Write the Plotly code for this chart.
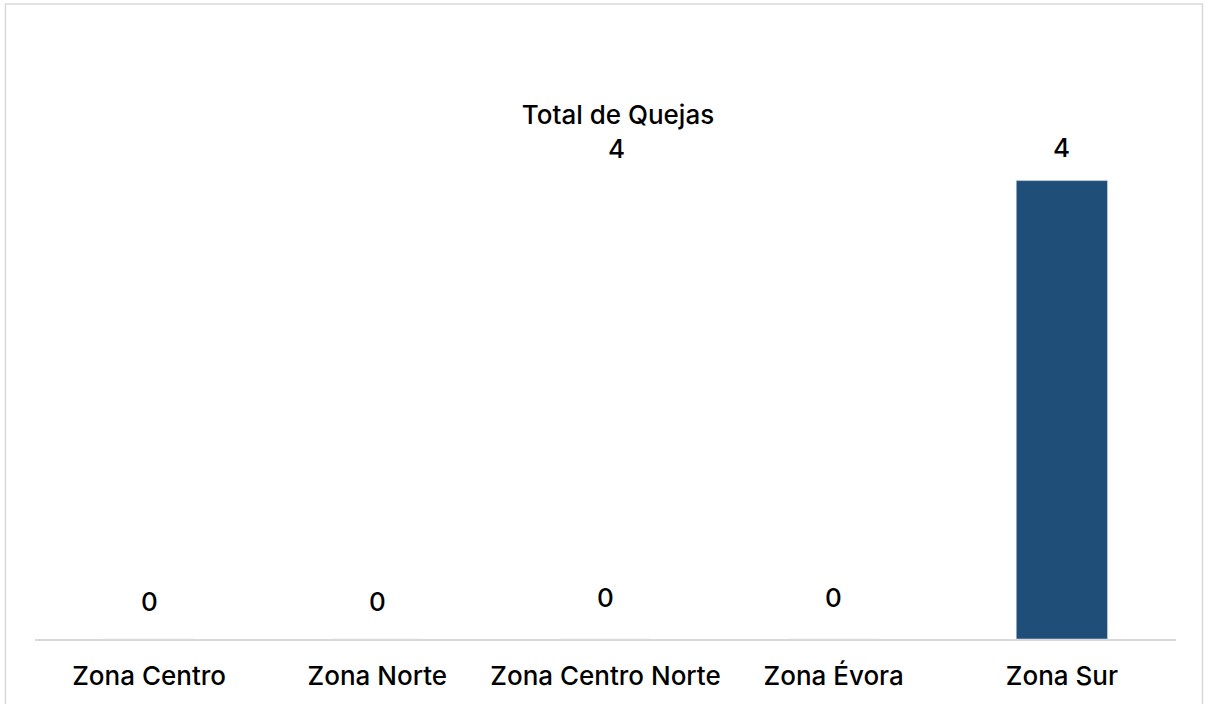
import plotly.graph_objects as go

categories = ["Zona Centro", "Zona Norte", "Zona Centro Norte", "Zona Évora", "Zona Sur"]
quejas = [0, 0, 0, 0, 4]
title_text = "Total de Quejas"

BAR_COLOR = "#1F4E79"
FONT = "Inter"
FSIZE = 26
label_shift = [38, 38, 42, 42, 33]

fig = go.Figure()
fig.add_trace(go.Bar(
    x=categories, y=quejas, marker_color=BAR_COLOR, width=0.4,
    hoverinfo="x+y",
))

for c, v, s in zip(categories, quejas, label_shift):
    fig.add_annotation(x=c, y=v, text=str(v), showarrow=False,
                       yanchor="middle", yshift=s,
                       font=dict(family=FONT, size=FSIZE, color="#000000", weight=500))

# stray total label under the title
fig.add_annotation(xref="paper", yref="paper", x=0.51, y=0.856,
                   text=str(sum(quejas)), showarrow=False, yanchor="middle",
                   font=dict(family=FONT, size=FSIZE, color="#000000", weight=500))

# outer border
fig.add_shape(type="rect", xref="paper", yref="paper",
              x0=-0.0259, x1=1.0232, y0=-0.2, y1=1.1083,
              line=dict(color="#d9d9d9", width=1.5), fillcolor="rgba(0,0,0,0)")

fig.update_layout(
    width=1208, height=704,
    margin=dict(l=35, r=32, t=66, b=65),
    paper_bgcolor="white", plot_bgcolor="white",
    showlegend=False,
    title=dict(text=title_text, x=618/1208, xanchor="center", xref="container",
               y=1-115/704, yanchor="middle", yref="container",
               font=dict(family=FONT, size=FSIZE, color="#000000", weight=500)),
    bargap=0.6,
    xaxis=dict(showline=True, linecolor="#d9d9d9", linewidth=1.5,
               ticks="outside", ticklen=13, tickcolor="rgba(0,0,0,0)",
               tickfont=dict(family=FONT, size=FSIZE, color="#000000", weight=500),
               showgrid=False, zeroline=False),
    yaxis=dict(range=[0, 5], visible=False, showgrid=False, zeroline=False),
)

fig.write_html("out.html", config={"displayModeBar": False},
               post_script="document.body.style.margin='0';")
